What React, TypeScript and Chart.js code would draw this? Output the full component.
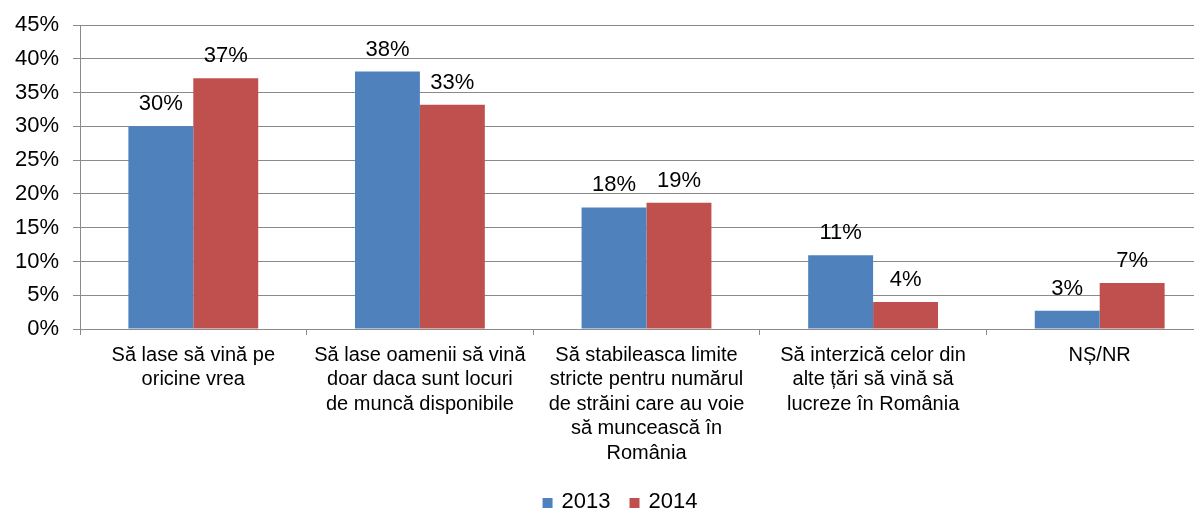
import React, { useEffect, useRef } from "react";
import { Chart, registerables } from "chart.js";

Chart.register(...registerables);

const categories: string[][] = [
  ["Să lase să vină pe", "oricine vrea"],
  ["Să lase oamenii să vină", "doar daca sunt locuri", "de muncă disponibile"],
  ["Să stabileasca limite", "stricte pentru numărul", "de străini care au voie", "să muncească în", "România"],
  ["Să interzică celor din", "alte țări să vină să", "lucreze în România"],
  ["NȘ/NR"],
];
const seriesNames: string[] = ["2013", "2014"];
const values2013: number[] = [30, 38.1, 18, 10.9, 2.7];
const values2014: number[] = [37.1, 33.2, 18.7, 4.0, 6.8];
const seriesColors: string[] = ["#4F81BD", "#C0504D"];
const yMin = 0;
const yMax = 45;
const yStep = 5;

const FONT = "'Liberation Sans', Arial, sans-serif";
const GRID = "#8a8a8a";
const W = 1236;
const H = 502;

const dataLabelPlugin = {
  id: "dataLabels",
  afterDatasetsDraw(chart: any) {
    const ctx = chart.ctx;
    ctx.save();
    ctx.font = `22px ${FONT}`;
    ctx.fillStyle = "#000";
    ctx.textAlign = "center";
    ctx.textBaseline = "alphabetic";
    chart.data.datasets.forEach((ds: any, i: number) => {
      const meta = chart.getDatasetMeta(i);
      meta.data.forEach((bar: any, j: number) => {
        const v = ds.data[j] as number;
        ctx.fillText(Math.round(v) + "%", bar.x, bar.y - 16);
      });
    });
    ctx.restore();
  },
};

const legendPlugin = {
  id: "customLegend",
  afterDraw(chart: any) {
    const ctx = chart.ctx;
    ctx.save();
    ctx.font = `22px ${FONT}`;
    ctx.textBaseline = "alphabetic";
    ctx.textAlign = "left";
    const box = 10;
    const gap = 9;
    const spacing = 19;
    const items = chart.data.datasets.map((ds: any) => ({
      text: ds.label as string,
      color: ds.backgroundColor as string,
      w: ctx.measureText(ds.label).width,
    }));
    let total = 0;
    items.forEach((it: any, i: number) => {
      total += box + gap + it.w + (i < items.length - 1 ? spacing : 0);
    });
    let x = (chart.width - total) / 2 - 6;
    const boxTop = 490;
    const baseline = 500;
    items.forEach((it: any) => {
      ctx.fillStyle = it.color;
      ctx.fillRect(x, boxTop, box, box);
      x += box + gap;
      ctx.fillStyle = "#000";
      ctx.fillText(it.text, x, baseline);
      x += it.w + spacing;
    });
    ctx.restore();
  },
};

export default function App() {
  const ref = useRef<HTMLCanvasElement | null>(null);

  useEffect(() => {
    if (!ref.current) return;
    const chart = new Chart(ref.current, {
      type: "bar",
      data: {
        labels: categories,
        datasets: [
          {
            label: seriesNames[0],
            data: values2013,
            backgroundColor: seriesColors[0],
            borderWidth: 0,
            categoryPercentage: 0.573,
            barPercentage: 1.0,
          },
          {
            label: seriesNames[1],
            data: values2014,
            backgroundColor: seriesColors[1],
            borderWidth: 0,
            categoryPercentage: 0.573,
            barPercentage: 1.0,
          },
        ],
      },
      options: {
        responsive: false,
        animation: false,
        devicePixelRatio: 1,
        layout: { padding: { left: 0, top: 17, right: W - 1205, bottom: 30 } },
        plugins: {
          legend: { display: false },
          tooltip: { enabled: false },
        },
        scales: {
          x: {
            offset: true,
            grid: {
              display: true,
              drawOnChartArea: false,
              drawTicks: true,
              tickLength: 6,
              offset: true,
              color: GRID,
            },
            border: { display: true, color: GRID, width: 1 },
            ticks: {
              color: "#000",
              padding: 8,
              maxRotation: 0,
              autoSkip: false,
              font: { family: FONT, size: 20, lineHeight: 1.225 },
            },
            afterFit: (scale: any) => {
              scale.height = 151;
              scale.paddingLeft = 0;
              scale.paddingRight = 0;
            },
          },
          y: {
            min: yMin,
            max: yMax,
            grid: {
              color: GRID,
              drawTicks: true,
              tickLength: 7,
            },
            border: { display: true, color: GRID, width: 1 },
            ticks: {
              stepSize: yStep,
              color: "#000",
              padding: 14,
              font: { family: FONT, size: 22 },
              callback: (v: any) => v + "%",
            },
            afterFit: (scale: any) => {
              scale.width = 72;
              scale.paddingTop = 0;
              scale.paddingBottom = 0;
            },
          },
        },
      },
      plugins: [dataLabelPlugin, legendPlugin],
    });
    return () => chart.destroy();
  }, []);

  return (
    <div style={{ width: 1194, height: H, overflow: "hidden" }}>
      <canvas ref={ref} width={W} height={H} style={{ display: "block", width: W, height: H }} />
    </div>
  );
}
